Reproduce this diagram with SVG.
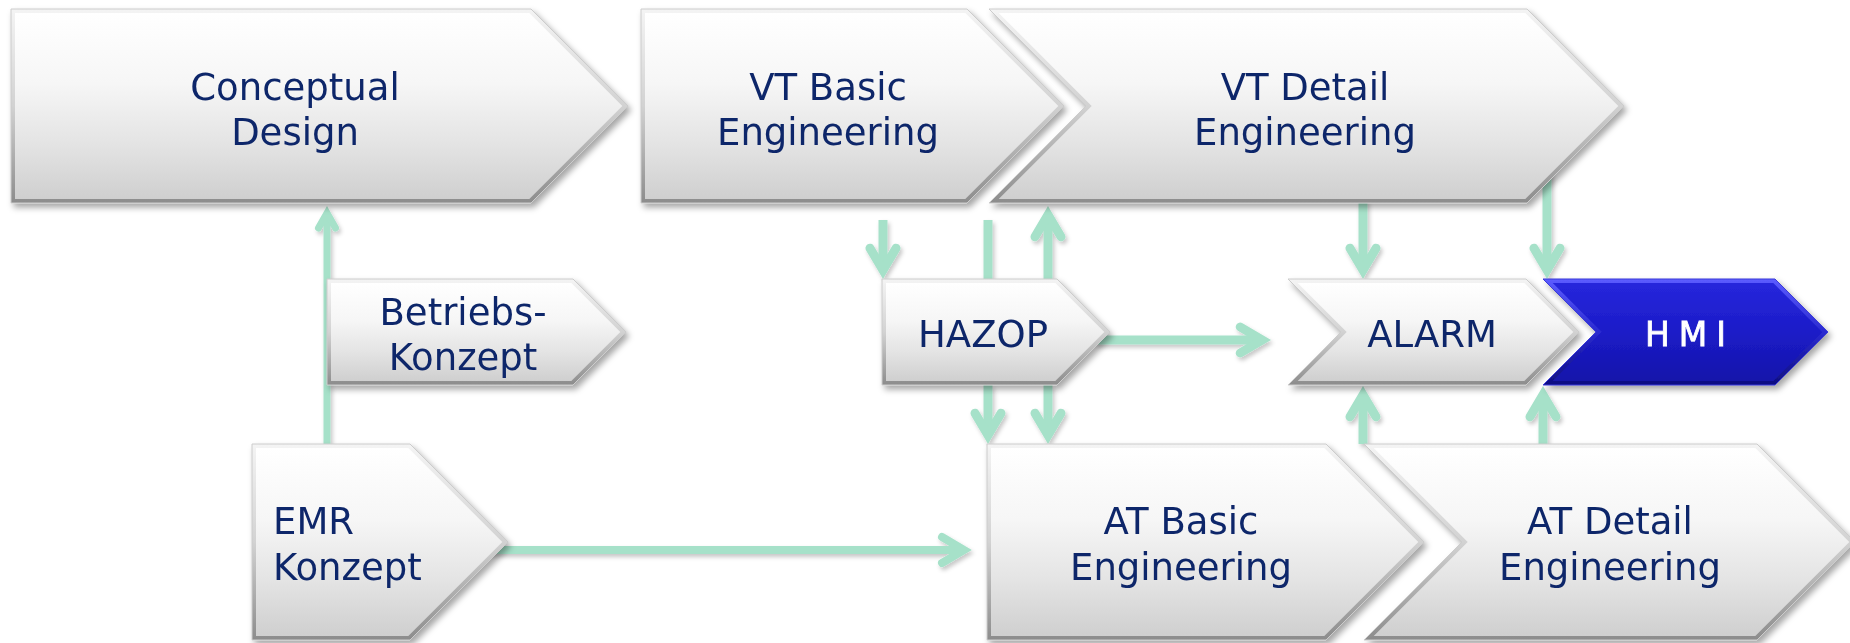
<svg xmlns="http://www.w3.org/2000/svg" width="1850" height="643" viewBox="0 0 1850 643">
<defs>
<linearGradient id="face" x1="0" y1="0" x2="0" y2="1">
<stop offset="0" stop-color="#ffffff"/>
<stop offset="0.38" stop-color="#f6f6f6"/>
<stop offset="0.7" stop-color="#e4e4e4"/>
<stop offset="1" stop-color="#cfcfcf"/>
</linearGradient>
<linearGradient id="edge" x1="0" y1="0" x2="0" y2="1">
<stop offset="0" stop-color="#f4f4f4"/>
<stop offset="0.5" stop-color="#d2d2d2"/>
<stop offset="1" stop-color="#8c8c8c"/>
</linearGradient>
<linearGradient id="bface" x1="0" y1="0" x2="0" y2="1">
<stop offset="0" stop-color="#2626dc"/>
<stop offset="0.5" stop-color="#1c1cc8"/>
<stop offset="1" stop-color="#1414aa"/>
</linearGradient>
<linearGradient id="bedge" x1="0" y1="0" x2="0" y2="1">
<stop offset="0" stop-color="#5c5cff"/>
<stop offset="0.5" stop-color="#2a2ad0"/>
<stop offset="1" stop-color="#0e0e80"/>
</linearGradient>
<filter id="sh" x="-10%" y="-10%" width="125%" height="130%">
<feDropShadow dx="3" dy="4" stdDeviation="3" flood-color="#000" flood-opacity="0.35"/>
</filter>
<filter id="ash" x="-50%" y="-20%" width="200%" height="150%">
<feDropShadow dx="2" dy="3" stdDeviation="2" flood-color="#000" flood-opacity="0.22"/>
</filter>
<style>
.edge{fill:url(#edge);stroke:#cccccc;stroke-width:1}
.face{fill:url(#face)}
.bedge{fill:url(#bedge);stroke:#3a3ad8;stroke-width:1}
.bface{fill:url(#bface)}
.t{font-family:"DejaVu Sans","Liberation Sans",sans-serif;font-size:37px;fill:#10286a;text-anchor:middle}
.tl{text-anchor:start}
.hmi{font-family:"DejaVu Sans","Liberation Sans",sans-serif;font-size:33px;fill:#ffffff;stroke:#ffffff;stroke-width:0.8;text-anchor:middle;letter-spacing:9px}
.c{fill:none;stroke:#a6e1c9;stroke-width:9;stroke-linejoin:miter;stroke-miterlimit:6}
.cap{stroke-linecap:round}
</style>
</defs>

<g id="connectors" filter="url(#ash)">
<!-- EMR -> Conceptual Design -->
<path class="c" style="stroke-width:7" d="M327,444 V216"/>
<path class="c cap" style="stroke-width:7" d="M318.5,228 L327,213 L335.5,228"/>
<!-- EMR -> AT Basic -->
<path class="c" style="stroke-width:8" d="M470,550 H962"/>
<path class="c cap" style="stroke-width:8" d="M942,537 L964,550 L942,563"/>
<!-- VT Basic -> HAZOP -->
<path class="c" d="M883,220 V268"/>
<path class="c cap" d="M870,248.2 L883,270.2 L896,248.2"/>
<!-- line above HAZOP -->
<path class="c" d="M988,220 V279"/>
<!-- HAZOP -> VT Detail -->
<path class="c" d="M1048,279 V217"/>
<path class="c cap" d="M1035,236.8 L1048,214.8 L1061,236.8"/>
<!-- HAZOP -> AT Basic -->
<path class="c" d="M988,385 V433"/>
<path class="c cap" d="M975,413.2 L988,435.2 L1001,413.2"/>
<path class="c" d="M1048,385 V433"/>
<path class="c cap" d="M1035,413.2 L1048,435.2 L1061,413.2"/>
<!-- HAZOP -> ALARM -->
<path class="c" d="M1095,340 H1260"/>
<path class="c cap" d="M1240.2,327 L1262.2,340 L1240.2,353"/>
<!-- VT Detail -> ALARM -->
<path class="c" d="M1363,200 V268"/>
<path class="c cap" d="M1350,248.2 L1363,270.2 L1376,248.2"/>
<!-- VT Detail -> HMI -->
<path class="c" d="M1547,170 V268"/>
<path class="c cap" d="M1534,248.2 L1547,270.2 L1560,248.2"/>
<!-- AT Detail -> ALARM -->
<path class="c" d="M1363,444 V397"/>
<path class="c cap" d="M1350,416.8 L1363,394.8 L1376,416.8"/>
<!-- AT Detail -> HMI -->
<path class="c" d="M1543,445 V397"/>
<path class="c cap" d="M1530,416.8 L1543,394.8 L1556,416.8"/>
</g>

<g id="conceptual-design" filter="url(#sh)">
<polygon class="edge" points="11,9 531,9 628,106 531,203 11,203"/>
<polygon class="face" points="15,13 529.3,13 622.3,106 529.3,199 15,199"/>
<text class="t" x="295" y="100">Conceptual</text>
<text class="t" x="295" y="145">Design</text>
</g>

<g id="vt-basic-engineering" filter="url(#sh)">
<polygon class="edge" points="641,9 967,9 1064,106 967,203 641,203"/>
<polygon class="face" points="645,13 965.3,13 1058.3,106 965.3,199 645,199"/>
<text class="t" x="828" y="100">VT Basic</text>
<text class="t" x="828" y="145">Engineering</text>
</g>

<g id="vt-detail-engineering" filter="url(#sh)">
<polygon class="edge" points="989,9 1527,9 1624,106 1527,203 989,203 1086,106"/>
<polygon class="face" points="998.7,13 1525.3,13 1618.3,106 1525.3,199 998.7,199 1091.7,106"/>
<text class="t" x="1305" y="100">VT Detail</text>
<text class="t" x="1305" y="145">Engineering</text>
</g>

<g id="betriebs-konzept" filter="url(#sh)">
<polygon class="edge" points="327,279 573,279 626,332 573,385 327,385"/>
<polygon class="face" points="331,283 571.3,283 620.3,332 571.3,381 331,381"/>
<text class="t" x="463" y="325">Betriebs-</text>
<text class="t" x="463" y="370">Konzept</text>
</g>

<g id="hazop" filter="url(#sh)">
<polygon class="edge" points="882,279 1057,279 1110,332 1057,385 882,385"/>
<polygon class="face" points="886,283 1055.3,283 1104.3,332 1055.3,381 886,381"/>
<text class="t" x="983" y="347">HAZOP</text>
</g>

<g id="alarm" filter="url(#sh)">
<polygon class="edge" points="1288,279 1526,279 1579,332 1526,385 1288,385 1341,332"/>
<polygon class="face" points="1297.7,283 1524.3,283 1573.3,332 1524.3,381 1297.7,381 1346.7,332"/>
<text class="t" x="1432" y="347">ALARM</text>
</g>

<g id="hmi" filter="url(#sh)">
<polygon class="bedge" points="1543,279 1775,279 1828,332 1775,385 1543,385 1596,332"/>
<polygon class="bface" points="1552.7,283 1773.3,283 1822.3,332 1773.3,381 1552.7,381 1601.7,332"/>
<text class="hmi" x="1690" y="346">HMI</text>
</g>

<g id="emr-konzept" filter="url(#sh)">
<polygon class="edge" points="252,444 410,444 508,542 410,640 252,640"/>
<polygon class="face" points="256,448 408.3,448 502.3,542 408.3,636 256,636"/>
<text class="t tl" x="273" y="534">EMR</text>
<text class="t tl" x="273" y="580">Konzept</text>
</g>

<g id="at-basic-engineering" filter="url(#sh)">
<polygon class="edge" points="987,444 1326,444 1424,542 1326,640 987,640"/>
<polygon class="face" points="991,448 1324.3,448 1418.3,542 1324.3,636 991,636"/>
<text class="t" x="1181" y="534">AT Basic</text>
<text class="t" x="1181" y="580">Engineering</text>
</g>

<g id="at-detail-engineering" filter="url(#sh)">
<polygon class="edge" points="1364,444 1757,444 1855,542 1757,640 1364,640 1462,542"/>
<polygon class="face" points="1373.7,448 1755.3,448 1849.3,542 1755.3,636 1373.7,636 1467.7,542"/>
<text class="t" x="1610" y="534">AT Detail</text>
<text class="t" x="1610" y="580">Engineering</text>
</g>
</svg>
